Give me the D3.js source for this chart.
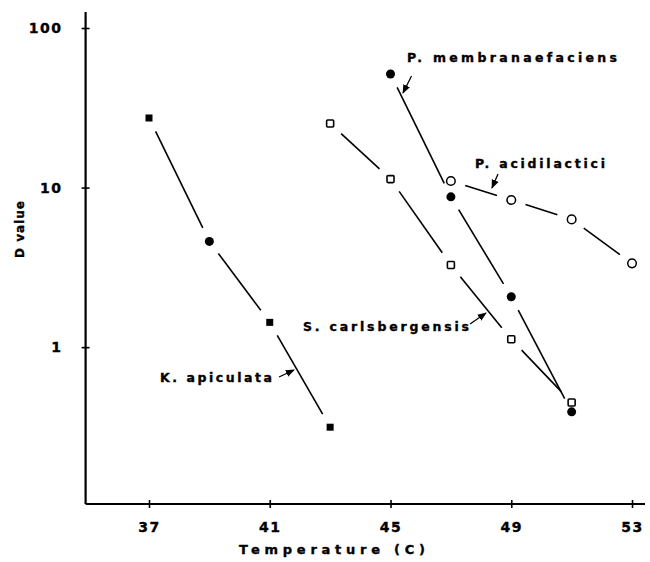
<!DOCTYPE html>
<html><head><meta charset="utf-8">
<script src="https://cdn.jsdelivr.net/npm/d3@7"></script>
<style>
html,body{margin:0;padding:0;background:#fff;}
text{font-family:"DejaVu Sans",sans-serif;font-weight:bold;fill:#000;stroke:#000;stroke-width:0.35px;}
</style></head>
<body><svg id="c" width="650" height="562"></svg>
<script>
// Data (temperature in C, D value)
const kApiculataT = [37, 39, 41, 43];
const kApiculataD = [27.3, 4.6, 1.43, 0.315];
const kApiculataShape = ["fsq", "fci", "fsq", "fsq"];
const sCarlsT = [43, 45, 47, 49, 51];
const sCarlsD = [25.2, 11.3, 3.27, 1.12, 0.45];
const pMembT = [45, 47, 49, 51];
const pMembD = [51.5, 8.75, 2.07, 0.393];
const pAcidT = [47, 49, 51, 53];
const pAcidD = [11.0, 8.36, 6.32, 3.35];
const xTicks = [37, 41, 45, 49, 53];
const yTicks = [1, 10, 100];
const yTickLabels = ["1", "10", "100"];

const svg = d3.select("#c");
const x = d3.scaleLinear().domain([34.9, 53.43]).range([85.6, 645]);
const y = d3.scaleLog().domain([0.104, 126]).range([504, 12]);

// axes
const xAxis = svg.append("g").attr("transform", `translate(0,${y(0.104)})`)
  .call(d3.axisBottom(x).tickValues(xTicks).tickSize(4).tickPadding(14).tickFormat(d3.format("d")));
xAxis.select(".domain").attr("d", `M${x(34.9)},0H${x(53.43)}`).attr("stroke-width", 2.2);
xAxis.selectAll(".tick line").attr("y1", -4).attr("y2", 4).attr("stroke-width", 1.6);
xAxis.selectAll(".tick text").style("font-size", "14px").style("font-family", "DejaVu Sans").style("font-weight", "bold").attr("letter-spacing", "1.5px");

const yAxis = svg.append("g").attr("transform", `translate(${x(34.9)},0)`)
  .call(d3.axisLeft(y).tickValues(yTicks).tickSize(4).tickPadding(19).tickFormat((d, i) => yTickLabels[i]));
yAxis.select(".domain").attr("d", `M0,${y(126)}V${y(0.104)}`).attr("stroke-width", 2.2);
yAxis.selectAll(".tick line").attr("x1", -4).attr("x2", 4).attr("stroke-width", 1.6);
yAxis.selectAll(".tick text").style("font-size", "14px").style("font-family", "DejaVu Sans").style("font-weight", "bold").attr("letter-spacing", "1.5px");

// axis titles
svg.append("text").attr("x", 239).attr("y", 554)
  .style("font-size", "13px").attr("textLength", 186).attr("lengthAdjust", "spacing").text("Temperature  (C)");
svg.append("text").attr("transform", "translate(24,229) rotate(-90)").attr("text-anchor", "middle")
  .style("font-size", "12px").attr("letter-spacing", "1px").text("D value");

// segments with gaps
const GAP = 15;
function segs(T, D) {
  const g = svg.append("g").attr("stroke", "#000").attr("stroke-width", 1.6).attr("fill", "none");
  for (let i = 0; i < T.length - 1; i++) {
    const x1 = x(T[i]), y1 = y(D[i]), x2 = x(T[i + 1]), y2 = y(D[i + 1]);
    const L = Math.hypot(x2 - x1, y2 - y1), ux = (x2 - x1) / L, uy = (y2 - y1) / L;
    g.append("line").attr("x1", x1 + ux * GAP).attr("y1", y1 + uy * GAP)
      .attr("x2", x2 - ux * GAP).attr("y2", y2 - uy * GAP);
  }
}
segs(kApiculataT, kApiculataD);
segs(sCarlsT, sCarlsD);
segs(pMembT, pMembD);
segs(pAcidT, pAcidD);

function marker(shape, cx, cy) {
  if (shape === "fsq") svg.append("rect").attr("x", cx - 3.5).attr("y", cy - 3.5).attr("width", 7).attr("height", 7).attr("fill", "#000");
  else if (shape === "fci") svg.append("circle").attr("cx", cx).attr("cy", cy).attr("r", 4.5).attr("fill", "#000");
  else if (shape === "osq") svg.append("rect").attr("x", cx - 3.5).attr("y", cy - 3.5).attr("width", 7).attr("height", 7).attr("rx", 1).attr("fill", "#fff").attr("stroke", "#000").attr("stroke-width", 1.6);
  else if (shape === "oci") svg.append("circle").attr("cx", cx).attr("cy", cy).attr("r", 4.3).attr("fill", "#fff").attr("stroke", "#000").attr("stroke-width", 1.5);
}
kApiculataT.forEach((t, i) => marker(kApiculataShape[i], x(t), y(kApiculataD[i])));
sCarlsT.forEach((t, i) => marker("osq", x(t), y(sCarlsD[i])));
pMembT.forEach((t, i) => marker("fci", x(t), y(pMembD[i])));
pAcidT.forEach((t, i) => marker("oci", x(t), y(pAcidD[i])));

// labels with arrows
svg.append("defs").append("marker").attr("id", "ah").attr("viewBox", "0 0 10 10")
  .attr("refX", 9).attr("refY", 5).attr("markerWidth", 7).attr("markerHeight", 7).attr("orient", "auto")
  .append("path").attr("d", "M0,1 L10,5 L0,9 Z").attr("fill", "#000");
const labels = [
  {text: "P. membranaefaciens", lx: 407, ly: 62, w: 210, ax1: 411.5, ay1: 76, ax2: 403, ay2: 93},
  {text: "P. acidilactici", lx: 475, ly: 168, w: 130, ax1: 498, ay1: 174, ax2: 492, ay2: 188},
  {text: "S. carlsbergensis", lx: 303, ly: 331, w: 166, ax1: 470, ay1: 324, ax2: 486, ay2: 313},
  {text: "K. apiculata", lx: 160, ly: 382, w: 112, ax1: 279, ay1: 377, ax2: 294, ay2: 370}
];
labels.forEach(l => {
  svg.append("text").attr("x", l.lx).attr("y", l.ly).style("font-size", "12.5px")
    .attr("textLength", l.w).attr("lengthAdjust", "spacing").text(l.text);
  svg.append("line").attr("x1", l.ax1).attr("y1", l.ay1).attr("x2", l.ax2).attr("y2", l.ay2)
    .attr("stroke", "#000").attr("stroke-width", 1.3).attr("marker-end", "url(#ah)");
});
</script></body></html>
